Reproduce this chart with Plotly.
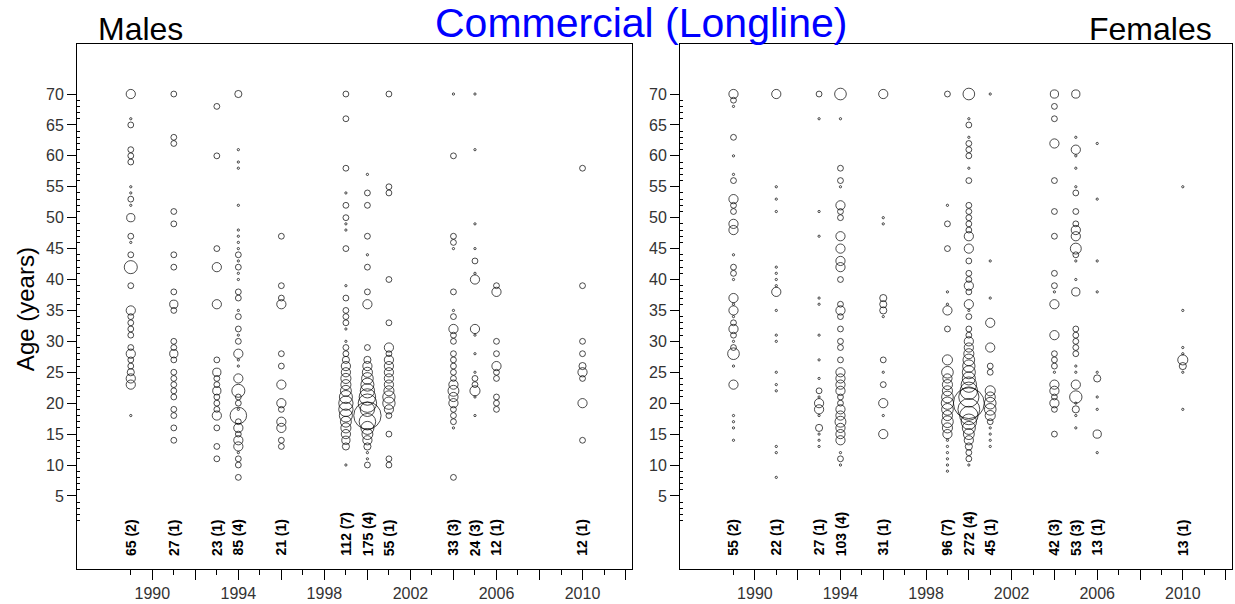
import plotly.graph_objects as go

# ---------------- data ----------------
years = [1989, 1991, 1993, 1994, 1996, 1999, 2000, 2001, 2004, 2005, 2006, 2010]
male_n = [65, 27, 23, 85, 21, 112, 175, 55, 33, 24, 12, 12]
male_trips = [2, 1, 1, 4, 1, 7, 4, 1, 3, 3, 1, 1]
female_n = [55, 22, 27, 103, 31, 96, 272, 45, 42, 53, 13, 13]
female_trips = [2, 1, 1, 4, 1, 7, 4, 1, 3, 3, 1, 1]

x_tickvals = [1990, 1992, 1994, 1996, 1998, 2000, 2002, 2004, 2006, 2008, 2010, 2012]
x_ticktext = ["1990", "", "1994", "", "1998", "", "2002", "", "2006", "", "2010", ""]
x_minor = [1989, 1991, 1993, 1995, 1997, 1999, 2001, 2003, 2005, 2007, 2009, 2011]
y_tickvals = [5, 10, 15, 20, 25, 30, 35, 40, 45, 50, 55, 60, 65, 70]
y_minor = [v for v in range(1, 71) if v % 5 != 0]

# proportions (%) at age, per year - males
m1989_age = [70,66,65,61,60,59,55,54,53,52,50,47,46,44,42,39,35,34,33,32,31,29,28,27,26,25,24,23,18]
m1989_p = [2.5,0.15,1,1,1,1,0.15,0.15,1,0.15,2,1,0.15,1,5,1,2.5,1,1,1,1,1,2.5,1,1,1.5,2.5,2.5,0.15]
m1991_age = [70,63,62,51,49,44,42,38,36,35,30,29,28,27,25,24,23,22,21,19,18,16,14]
m1991_p = [1,1,1,1,1,1,1,1,2,1,1,1,2,1,1,1,1,1,1,1,1,1,1]
m1993_age = [68,60,45,42,36,27,25,24,23,22,21,20,19,18,16,13,11]
m1993_p = [1,1,1,2.5,2.5,1,2,1,1,2,1,1,1,2.5,1,1,1]
m1994_age = [70,61,59,58,52,48,47,46,45,44,43,42,41,40,38,37,35,34,32,31,30,28,27,26,24,22,21,20,19,18,17,16,15,14,13,12,11,10,8]
m1994_p = [1.5,0.15,0.15,0.15,0.15,0.15,0.15,0.15,0.15,1,0.15,1,0.15,0.15,1,1,0.15,1,1,0.15,1,2.5,0.15,0.15,2.5,5,1,1,0.15,8,1,2.5,1,2.5,2.5,0.15,1,1,1]
m1996_age = [47,39,37,36,28,26,23,20,19,17,16,14,13]
m1996_p = [1,1,1,2.5,1,1,2.5,2.5,1,2.5,2.5,1,1]
m1999_age = [70,66,58,54,52,50,49,48,45,39,37,35,34,33,32,30,29,28,27,26,25,24,23,22,21,20,19,18,17,16,15,14,13,10]
m1999_p = [1,1,1,0.15,1,1,0.15,0.15,1,0.15,1,1,1,1,0.15,0.15,1,1,1.5,2.5,2.5,3,3,3.5,5,6,6,5,3.5,3,2.5,2,1.5,0.15]
m2000_age = [57,54,52,47,44,42,38,36,29,27,26,25,24,23,22,21,20,19,18,17,16,15,14,13,12,11,10]
m2000_p = [0.15,1,1,1,0.15,1,1,2.5,1,1.5,2.5,3,4,5,6,8,10,6,22,8,5,3.5,2.5,1.5,0.15,0.15,1]
m2001_age = [70,55,54,40,33,29,28,27,26,25,24,23,22,21,20,19,18,15,11,10]
m2001_p = [1,1,1,1,1,2.5,1,2.5,2.5,2.5,2.5,2.5,3,4.5,4.5,2.5,1,1,1,1]
m2004_age = [70,60,47,46,45,38,35,34,32,31,30,28,27,26,25,24,23,22,21,20,19,18,17,16,8]
m2004_p = [0.15,1,1,1,0.15,1,0.15,1,2.5,1,1,1,1,1,1,1,2.5,3.5,2.5,2.5,1,1,1,0.15,1]
m2005_age = [70,61,49,45,43,41,40,32,31,28,25,24,23,22,21,18]
m2005_p = [0.15,0.15,0.15,0.15,1,0.15,2.5,2.5,0.15,0.15,0.15,1,1,3,0.15,0.15]
m2006_age = [39,38,30,28,26,25,24,21,20,19]
m2006_p = [1,2.5,1,1,2.5,1,1,1,1,1]
m2010_age = [58,39,30,28,26,25,24,20,14]
m2010_p = [1,1,1,1,1.5,2.5,1,2.5,1]

# females
f1989_age = [70,69,68,63,60,57,56,53,52,51,49,48,44,42,41,40,37,36,35,34,33,32,31,30,29,28,26,23,18,17,16,14]
f1989_p = [2.5,1,0.15,1,0.15,0.15,1,2.5,1,1,2.5,2.5,0.15,1,1,0.15,2.5,0.15,2.5,0.15,1,2.5,1,0.15,1,4,0.15,2.5,0.15,0.15,0.15,0.15]
f1991_age = [70,55,53,51,42,41,40,39,38,35,31,30,25,23,22,13,12,8]
f1991_p = [2.5,0.15,0.15,0.15,0.15,0.15,0.15,0.15,2.5,0.15,0.15,0.15,0.15,0.15,0.15,0.15,0.15,0.15]
f1993_age = [70,66,51,47,37,36,31,27,24,22,21,20,19,18,16,15,14,13]
f1993_p = [1,0.15,0.15,0.15,0.15,0.15,0.15,0.15,0.15,1,0.15,2.5,2.5,0.15,1.5,0.15,0.15,0.15]
f1994_age = [70,66,58,56,55,52,51,50,47,45,43,42,40,36,35,34,32,30,29,27,25,24,23,22,21,20,19,18,17,16,15,14,12,11,10]
f1994_p = [4,0.15,1,1,0.15,2.5,1,1,2.5,2.5,2.5,2.5,1,1,2.5,1,1,1,1,1,2.5,2.5,2.5,2.5,1,1,2.5,2.5,3.5,2.5,2.5,2.5,0.15,1,0.15]
f1996_age = [70,50,49,37,36,35,34,27,25,23,20,18,15]
f1996_p = [2.5,0.15,0.15,1.5,1.5,1.5,0.15,1,0.15,1,2.5,0.15,2.5]
f1999_age = [70,52,49,45,38,36,35,32,27,25,24,23,22,21,20,19,18,17,16,15,14,13,12,11,10,9]
f1999_p = [1,0.15,1,1,0.15,0.15,2.5,1,3,4,2.5,3,3,4,4.5,4,3,4,3,2.5,0.15,0.15,0.15,0.15,0.15,0.15]
f2000_age = [70,66,65,63,62,61,60,58,56,52,51,50,49,48,47,45,43,41,40,39,38,36,35,34,32,31,30,29,28,27,26,25,24,23,22,21,20,19,18,17,16,15,14,13,12,11,10]
f2000_p = [4,0.15,1,0.15,1,1,1,0.15,1,1,1,1,1,1,2.5,2.5,1,1,1,2.5,1,2.5,0.15,1,1,1,2.5,2.5,3,4,4.5,5,5,7,9,12,28,14,10,7,5,3.5,2.5,1.5,1,1,0.15]
f2001_age = [70,43,37,33,29,26,25,22,21,20,19,18,17,16,15,14,13]
f2001_p = [0.15,0.15,0.15,2.5,2.5,1,1,3,3,4,4,3,1,0.15,0.15,0.15,0.15]
f2004_age = [70,68,66,62,56,51,47,41,39,38,36,31,28,27,26,25,23,22,21,20,19,15]
f2004_p = [2,1,1,2.5,1,1,1,1,1,0.15,2.5,2.5,1,1,1,0.15,2.5,2.5,1,2.5,1,1]
f2005_age = [70,63,61,60,58,55,54,51,49,48,47,45,44,43,40,38,32,31,30,29,28,26,25,23,21,20,19,18,16]
f2005_p = [2,0.15,2.5,0.15,0.15,0.15,1,1,1,2.5,2.5,3.5,1,0.15,0.15,2,1,1,1,1,1,0.15,0.15,2.5,4.5,0.15,1.5,0.15,0.15]
f2006_age = [62,53,43,38,25,24,21,19,15,12]
f2006_p = [0.15,0.15,0.15,0.15,0.15,1.5,0.15,0.15,2,0.15]
f2010_age = [55,35,29,28,27,26,25,19]
f2010_p = [0.15,0.15,0.15,0.15,3,1.5,0.15,0.15]

male_cols = [(m1989_age, m1989_p), (m1991_age, m1991_p), (m1993_age, m1993_p), (m1994_age, m1994_p),
             (m1996_age, m1996_p), (m1999_age, m1999_p), (m2000_age, m2000_p), (m2001_age, m2001_p),
             (m2004_age, m2004_p), (m2005_age, m2005_p), (m2006_age, m2006_p), (m2010_age, m2010_p)]
female_cols = [(f1989_age, f1989_p), (f1991_age, f1991_p), (f1993_age, f1993_p), (f1994_age, f1994_p),
               (f1996_age, f1996_p), (f1999_age, f1999_p), (f2000_age, f2000_p), (f2001_age, f2001_p),
               (f2004_age, f2004_p), (f2005_age, f2005_p), (f2006_age, f2006_p), (f2010_age, f2010_p)]

# ---------------- figure ----------------
W, H = 1235, 604
fig = go.Figure()
SIZEREF = 1 / 17.0


def add_panel(cols, xa, ya):
    xs, ys, ss = [], [], []
    for yr, (ages, props) in zip(years, cols):
        xs += [yr] * len(ages)
        ys += ages
        ss += props
    fig.add_trace(go.Scatter(
        x=xs, y=ys, mode="markers", xaxis=xa, yaxis=ya, showlegend=False,
        marker=dict(symbol="circle-open", size=ss, sizemode="area", sizeref=SIZEREF,
                    sizemin=1, color="black", line=dict(width=1, color="black")),
        hoverinfo="x+y"))


add_panel(male_cols, "x", "y")
add_panel(female_cols, "x2", "y2")

label_font = dict(family="Liberation Sans Narrow, Arial Narrow, Liberation Sans, Arial", size=14,
                  color="black", weight="bold")
ann = []
for xr, ns, ts in (("x", male_n, male_trips), ("x2", female_n, female_trips)):
    yr_ref = "y" if xr == "x" else "y2"
    for yr, n, t in zip(years, ns, ts):
        ann.append(dict(x=yr, y=-5.0, xref=xr, yref=yr_ref, text=f"{n} ({t})", textangle=-90,
                        xanchor="center", yanchor="bottom", showarrow=False, font=label_font))

title_font = "Liberation Sans, Arial"
ann.append(dict(x=641 / W, y=1.040, xref="paper", yref="paper", text="Commercial (Longline)",
                showarrow=False, xanchor="center", yanchor="middle",
                font=dict(family=title_font, size=41, color="#0000FF")))
ann.append(dict(x=96 / W, y=1.029, xref="paper", yref="paper", text="Males",
                showarrow=False, xanchor="left", yanchor="middle",
                font=dict(family=title_font, size=32, color="black")))
ann.append(dict(x=1214 / W, y=1.029, xref="paper", yref="paper", text="Females",
                showarrow=False, xanchor="right", yanchor="middle",
                font=dict(family=title_font, size=32, color="black")))
ann.append(dict(x=25 / W, y=0.495, xref="paper", yref="paper", text="Age (years)", textangle=-90,
                showarrow=False, xanchor="center", yanchor="middle",
                font=dict(family=title_font, size=24, color="black")))

xaxis_common = dict(range=[1986.5, 2012.3], tickmode="array", tickvals=x_tickvals, ticktext=x_ticktext,
                    ticks="outside", ticklen=10, tickwidth=1, tickcolor="black",
                    minor=dict(tickmode="array", tickvals=x_minor, ticks="outside", ticklen=5,
                               tickwidth=1, tickcolor="black"),
                    showline=True, linecolor="black", linewidth=1, mirror=True,
                    showgrid=False, zeroline=False,
                    tickfont=dict(family=title_font, size=16, color="#333333"))
yaxis_common = dict(range=[-6.82, 78.09], tickmode="array", tickvals=y_tickvals,
                    ticks="outside", ticklen=9, tickwidth=1, tickcolor="black",
                    minor=dict(tickmode="array", tickvals=y_minor, ticks="inside", ticklen=3,
                               tickwidth=1, tickcolor="black"),
                    showline=True, linecolor="black", linewidth=1, mirror=True,
                    showgrid=False, zeroline=False,
                    tickfont=dict(family=title_font, size=16, color="#333333"))

fig.update_layout(
    width=W, height=H, autosize=False,
    margin=dict(l=0, r=0, t=44, b=35, pad=0),
    paper_bgcolor="white", plot_bgcolor="white",
    xaxis=dict(domain=[77 / W, 632 / W], anchor="y", **xaxis_common),
    xaxis2=dict(domain=[680 / W, 1232 / W], anchor="y2", **xaxis_common),
    yaxis=dict(domain=[0, 1], anchor="x", **yaxis_common),
    yaxis2=dict(domain=[0, 1], anchor="x2", **yaxis_common),
    annotations=ann,
)

fig.write_html("out.html", config={"displayModeBar": False},
               post_script="document.body.style.margin='0px';document.body.style.overflow='hidden';")
